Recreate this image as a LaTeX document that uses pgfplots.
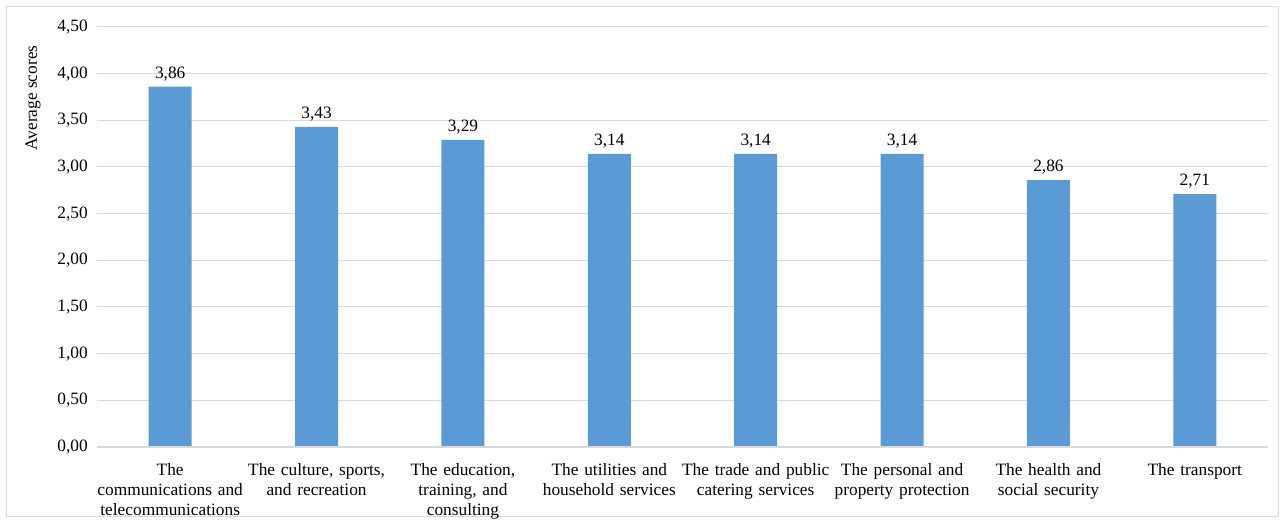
\documentclass[border=0pt]{standalone}
\usepackage{fontspec}
\setmainfont{Liberation Serif}
\usepackage{pgfplots}
\pgfplotsset{compat=1.18}
\definecolor{barblue}{HTML}{5B9BD5}
\definecolor{gridgray}{HTML}{D9D9D9}
\begin{document}
\fontsize{13pt}{15pt}\selectfont
\begin{tikzpicture}
\useasboundingbox (-72.75pt,-57.75pt) rectangle (891pt,335.25pt);
\draw[gridgray, line width=0.75pt] (-67.5pt,-52.5pt) rectangle (885.75pt,330pt);
\begin{axis}[
  at={(0,0)}, anchor=south west,
  scale only axis,
  width=878.25pt, height=315pt,
  xmin=-0.5, xmax=7.5,
  ymin=0, ymax=4.5,
  ytick={0,0.5,...,4.5},
  xtick={0,...,7},
  xticklabels={
    {The\\communications and\\telecommunications},
    {The culture, sports,\\and recreation},
    {The education,\\training, and\\consulting},
    {The utilities and\\household services},
    {The trade and public\\catering services},
    {The personal and\\property protection},
    {The health and\\social security},
    {The transport}},
  xticklabel style={align=center, text width=112pt, font=\fontsize{13pt}{15pt}\selectfont, inner sep=0pt, yshift=-12.5pt},
  yticklabel style={font=\fontsize{13pt}{15pt}\selectfont, inner sep=0pt, xshift=-6.75pt},
  /pgf/number format/.cd, fixed, fixed zerofill, precision=2, use comma, assume math mode=true,
  /pgfplots/.cd,
  axis line style={draw=none},
  major tick length=0pt,
  ymajorgrids,
  grid style={gridgray, line width=0.75pt},
  ylabel={Average scores},
  every axis y label/.style={at={(rel axis cs:0,0.831)}, xshift=-48pt, rotate=90, anchor=center, font=\fontsize{13pt}{15pt}\selectfont},
  ybar, bar width=0.294,
  nodes near coords,
  nodes near coords style={font=\fontsize{13pt}{15pt}\selectfont, /pgf/number format/.cd, fixed, fixed zerofill, precision=2, use comma, assume math mode=true},
  clip=false,
]
\addplot[fill=barblue, draw=none] coordinates {
(0,3.86) (1,3.43) (2,3.29) (3,3.14) (4,3.14) (5,3.14) (6,2.86) (7,2.71)};
\draw[gridgray, line width=1.2pt] (rel axis cs:0,0) -- (rel axis cs:1,0);
\end{axis}
\end{tikzpicture}
\end{document}
